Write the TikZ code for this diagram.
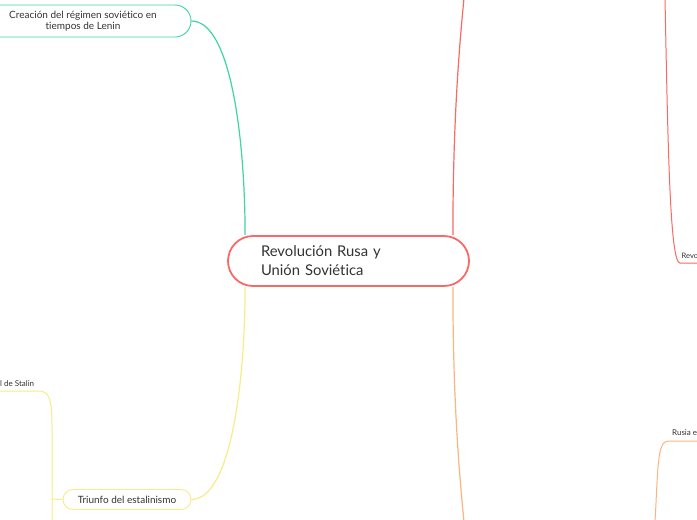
\documentclass[tikz,border=0pt]{standalone}
\usepackage{fontspec}
\setmainfont{Lato}[Ligatures={NoCommon}]
\usetikzlibrary{calc}
\definecolor{cred}{HTML}{F96A66}
\definecolor{cgreen}{HTML}{3ED6A0}
\definecolor{cyellow}{HTML}{F8EC88}
\definecolor{corange}{HTML}{FDB482}
\definecolor{ctext}{HTML}{333333}
\begin{document}
\begin{tikzpicture}[x=1pt,y=-1pt,
  conn/.style={line width=1.2pt},
  topic/.style={rounded corners=#1, line width=0.9pt, fill=white, text=ctext, align=center},
  sublabel/.style={anchor=west, inner sep=0pt, text=ctext, font=\fontsize{8}{9}\selectfont},
]
\useasboundingbox (0,0) rectangle (697,520);
\fill[white] (0,0) rectangle (697,520);
\clip (0,0) rectangle (697,520);

% coordinates for off-page ends
\coordinate (rtop) at (464,-2);
\coordinate (obot) at (464,522);
\coordinate (rr0) at (665,-2);
\coordinate (rr1) at (698,263);
\coordinate (or0) at (655,522);
\coordinate (or1) at (698,441);
\coordinate (ys0) at (-2,391);
\coordinate (ys1) at (52,522);
\coordinate (yj) at (52,499);

\node[draw=cred, line width=1.8pt, rounded corners=25pt, minimum width=241pt, minimum height=50pt,
      text width=175pt, inner xsep=33pt, align=left, text=ctext, fill=white,
      font=\fontsize{14.8}{19}\selectfont] (root) at (348.5,261) {Revolución Rusa y\\Unión Soviética};

\node[topic=16pt, draw=cgreen, minimum width=216pt, minimum height=32pt,
      font=\fontsize{10}{11.5}\selectfont] (lenin) at (83,21) {Creación del régimen soviético en\\tiempos de Lenin};

\node[topic=10pt, draw=cyellow, minimum width=128pt, minimum height=20pt,
      font=\fontsize{10}{11.5}\selectfont] (stal) at (127,499.5) {Triunfo del estalinismo};

\node[sublabel] (lstalin) at (0,384) {l de Stalin};
\node[sublabel, font=\fontsize{7.5}{9}\selectfont] (revo) at (681.5,256) {Revo};
\node[sublabel] (rusia) at (672,433) {Rusia e};

\draw[conn, cgreen] (lenin.east) .. controls (232,21) and ($(root.north west)+(18,-90)$) .. ($(root.north west)+(18,0)$);
\draw[conn, cyellow] (stal.east) .. controls (232,499) and ($(root.south west)+(18,90)$) .. ($(root.south west)+(18,0)$);
\draw[conn, cred] ($(root.north east)+(-17,0)$) .. controls ($(root.north east)+(-17,-120)$) and (460,40) .. (rtop);
\draw[conn, corange] ($(root.south east)+(-17,0)$) .. controls ($(root.south east)+(-17,120)$) and (460,480) .. (obot);
\draw[conn, cred, line width=1pt] (rr0) .. controls (668,150) and (670,263) .. (680,263) -- (rr1);
\draw[conn, corange, line width=1pt] (or0) .. controls (658,470) and (657,441) .. (668,441) -- (or1);
\draw[conn, cyellow, line width=1pt] (stal.west) -- (yj);
\draw[conn, cyellow, line width=1pt] (ys1) -- (52,425) .. controls (52,396) and (48,391) .. (38,391) -- (ys0);
\end{tikzpicture}
\end{document}
